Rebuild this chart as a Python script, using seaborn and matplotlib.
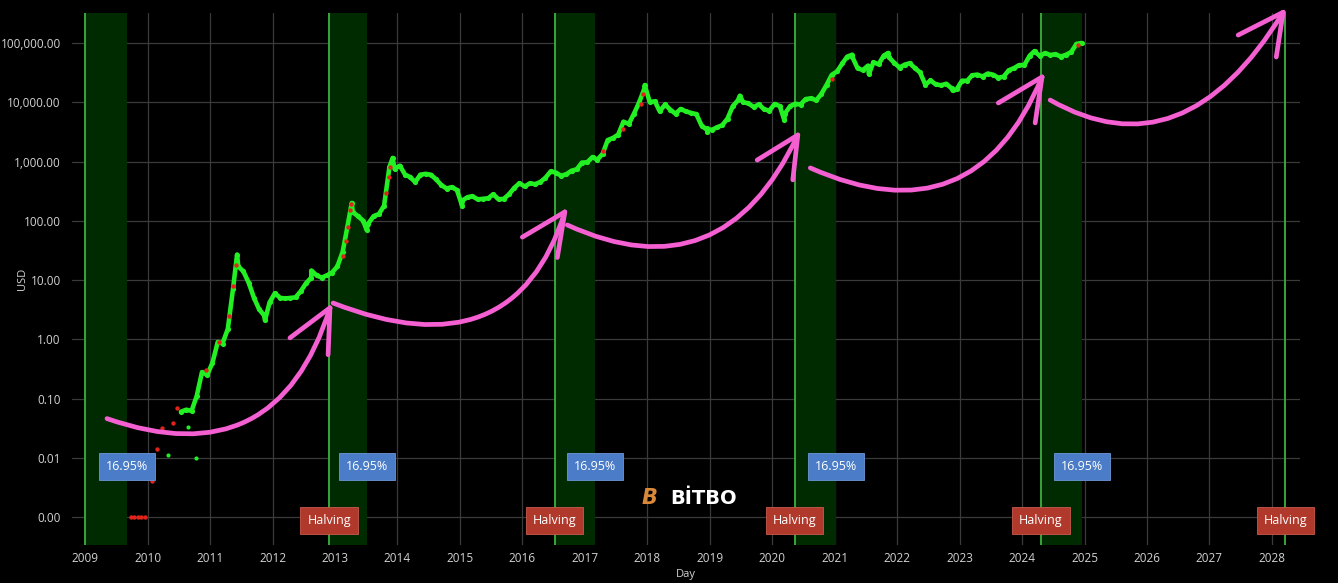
#!/usr/bin/env python3
"""
Bitcoin price (log scale) with halving cycles and the 16.95% post-halving window
"""

import numpy as np
import pandas as pd
import matplotlib
matplotlib.use('Agg')
import matplotlib.pyplot as plt
from matplotlib.path import Path
from matplotlib.patches import PathPatch
import seaborn as sns

# monthly price (USD), Jul 2010 .. Dec 2024
first_month = '2010-07-01'
monthly_usd = [
    0.06, 0.065, 0.062, 0.11, 0.28, 0.25,                                    # 2010 H2
    0.40, 0.90, 0.85, 1.50, 7.0, 17.0, 14.0, 9.0, 5.0, 3.2, 2.5, 4.2,        # 2011
    6.0, 5.0, 4.9, 5.0, 5.1, 6.5, 8.8, 11.0, 12.0, 11.0, 12.0, 13.4,         # 2012
    17, 30, 80, 140, 120, 100, 90, 120, 130, 180, 800, 750,                  # 2013
    850, 600, 550, 450, 600, 620, 600, 500, 400, 350, 370, 330,              # 2014
    220, 250, 260, 230, 235, 240, 280, 230, 235, 280, 360, 430,              # 2015
    380, 430, 415, 450, 530, 680, 650, 575, 610, 700, 740, 960,              # 2016
    970, 1190, 1070, 1350, 2300, 2500, 2850, 4700, 4300, 6400, 10000, 17000, # 2017
    10200, 10300, 7000, 9200, 7500, 6400, 7700, 7000, 6600, 6300, 4000, 3700,  # 2018
    3450, 3800, 4100, 5300, 8500, 10800, 10000, 9600, 8300, 9200, 7600, 7200,  # 2019
    9350, 8600, 6400, 8600, 9450, 9140, 11300, 11650, 10800, 13800, 19700, 29000,   # 2020
    33100, 45200, 58800, 57700, 37300, 35000, 41500, 47100, 43800, 61300, 57000, 46300,  # 2021
    38500, 43200, 45500, 37700, 31800, 19800, 23300, 20000, 19400, 20500, 17200, 16500,  # 2022
    23100, 23100, 28500, 29300, 27200, 30500, 29200, 26000, 27000, 34500, 37700, 42300,  # 2023
    42600, 61200, 71300, 60700, 67500, 62700, 64600, 59000, 63300, 70200, 96400, 100000, # 2024
]

# extra highs / lows between the monthly points
swing_dates = ['2011-06-08', '2011-11-18', '2012-08-16', '2013-04-09', '2013-07-05',
               '2013-12-04', '2015-01-14', '2017-12-17', '2018-12-15', '2019-06-26',
               '2020-03-12', '2021-04-14', '2021-07-20', '2021-11-10', '2022-11-21',
               '2024-03-14']
swing_usd = [27, 2.1, 14.5, 200, 70, 1150, 180, 19500, 3200, 12900,
             5000, 63500, 29800, 68000, 15800, 73000]

# red dots (fast-rising days) and stray early green dots
red_dates = ['2009-09-25', '2009-10-15', '2009-11-05', '2009-11-25', '2009-12-15',
             '2010-01-25', '2010-02-25', '2010-03-25', '2010-05-28', '2010-06-20',
             '2010-12-10', '2011-02-25', '2011-04-20', '2011-05-18', '2011-06-01',
             '2013-02-15', '2013-03-05', '2013-03-20', '2013-04-01', '2013-04-06',
             '2013-10-28', '2013-11-12', '2013-11-18', '2017-04-20', '2017-08-10',
             '2017-11-25', '2017-12-08', '2020-12-15', '2024-11-25']
red_usd = [0.001, 0.001, 0.001, 0.001, 0.001,
           0.004, 0.014, 0.032, 0.039, 0.07,
           0.3, 0.9, 2.5, 8.0, 18.0,
           25, 45, 80, 150, 190,
           300, 550, 800, 1500, 3500,
           9500, 14000, 25000, 92000]
stray_dates = ['2010-04-30', '2010-08-25', '2010-10-12']
stray_usd = [0.011, 0.033, 0.010]

# cycle boundaries: genesis block, then halvings
halving_dates = ['2009-01-03', '2012-11-28', '2016-07-09', '2020-05-11', '2024-04-20', '2028-03-20']
window_share = 0.1695
window_label = '16.95%'

# hand drawn arrows (tail, bend, tip, left barb, lower barb) in (year, USD)
arrows = [
    [(2009.35, 0.046), (2012.07, 0.0046), (2012.92, 3.4), (2012.28, 1.06), (2012.89, 0.55)],
    [(2012.97, 4.1), (2015.87, 0.26), (2016.68, 141), (2016.00, 53), (2016.56, 24)],
    [(2016.72, 85), (2019.20, 5.4), (2020.41, 2800), (2019.76, 1060), (2020.33, 490)],
    [(2020.61, 780), (2023.23, 46), (2024.32, 26700), (2023.62, 9730), (2024.21, 4480)],
    [(2024.45, 10900), (2026.58, 572), (2028.18, 330000), (2027.46, 136000), (2028.07, 58000)],
]

GREEN = '#22f022'
RED = '#e0241b'
PINK = '#f45fd2'
GRID = '#3a3a3a'
TICK = '#d2d2d2'


def to_year(dates):
    d = pd.to_datetime(pd.Index(dates))
    days = np.where(d.is_leap_year, 366, 365)
    return np.asarray(d.year + (d.dayofyear - 1) / days, dtype=float)


def build_prices():
    months = pd.date_range(first_month, periods=len(monthly_usd), freq='MS') + pd.Timedelta(days=14)
    df = pd.DataFrame({'year': to_year(months), 'usd': monthly_usd})
    swings = pd.DataFrame({'year': to_year(swing_dates), 'usd': swing_usd})
    return pd.concat([df, swings]).sort_values('year').reset_index(drop=True)


def draw_arrow(ax, tail, bend, tip, barb1, barb2):
    path = Path([tail, bend, tip], [Path.MOVETO, Path.CURVE3, Path.CURVE3])
    ax.add_patch(PathPatch(path, fill=False, edgecolor=PINK, lw=3.4,
                           capstyle='round', zorder=6, clip_on=False))
    for barb in (barb1, barb2):
        ax.plot([barb[0], tip[0]], [barb[1], tip[1]], color=PINK, lw=3.4,
                solid_capstyle='round', zorder=6, clip_on=False)


def main():
    sns.set_theme(style='dark')
    plt.rcParams['font.family'] = ['Open Sans', 'DejaVu Sans']

    fig = plt.figure(figsize=(13.38, 5.83), dpi=100, facecolor='black')
    ax = fig.add_axes([72 / 1338, 38 / 583, 1228 / 1338, 532 / 583])
    ax.set_facecolor('black')
    ax.set_yscale('log')
    ax.set_xlim(2008.79, 2028.45)
    ax.set_ylim(10 ** -3.47, 10 ** 5.506)

    # grid
    years = np.arange(2009, 2029)
    decades = [0.001, 0.01, 0.1, 1, 10, 100, 1000, 10000, 100000]
    for yr in years:
        ax.axvline(yr, color=GRID, lw=0.9, zorder=0)
    for v in decades:
        ax.axhline(v, color=GRID, lw=0.9, zorder=0)

    # halving cycles and the post-halving window
    h = to_year(halving_dates)
    for i, start in enumerate(h):
        ax.axvline(start, color='#3aa53a', lw=1.4, zorder=2)
        if i + 1 < len(h):
            end = start + window_share * (h[i + 1] - start)
            ax.axvspan(start, end, color='#002a00', lw=0, zorder=1)
            ax.text(end, 0.0071, window_label, ha='center', va='center', fontsize=9,
                    color='white', zorder=7,
                    bbox=dict(boxstyle='square,pad=0.55', fc='#4a7cc8', ec='#6d97d8', lw=0.6))
        if i > 0:
            ax.text(start, 0.00087, 'Halving', ha='center', va='center', fontsize=9,
                    color='white', zorder=7,
                    bbox=dict(boxstyle='square,pad=0.55', fc='#b0392c', ec='#c85a4d', lw=0.6))

    # price
    prices = build_prices()
    sns.lineplot(data=prices, x='year', y='usd', color=GREEN, lw=3.3, ax=ax,
                 sort=False, zorder=4)
    sns.scatterplot(data=prices, x='year', y='usd', color=GREEN, s=14, linewidth=0,
                    ax=ax, zorder=4)
    sns.scatterplot(x=to_year(stray_dates), y=stray_usd, color=GREEN, s=9,
                    linewidth=0, ax=ax, zorder=4)
    sns.scatterplot(x=to_year(red_dates), y=red_usd, color=RED, s=10,
                    linewidth=0, ax=ax, zorder=5)

    for a in arrows:
        draw_arrow(ax, *a)

    # axes styling
    ax.set_xticks(years)
    ax.set_xticklabels([str(y) for y in years])
    ax.set_yticks(decades)
    ax.set_yticklabels([f'{v:,.2f}' for v in decades])
    ax.minorticks_off()
    ax.tick_params(axis='both', length=0, colors=TICK, labelsize=8.5)
    ax.tick_params(axis='y', pad=8)
    ax.tick_params(axis='x', pad=5)
    ax.grid(False)
    for s in ax.spines.values():
        s.set_visible(False)
    ax.set_xlabel('Day', color=TICK, fontsize=8, labelpad=3)
    ax.set_ylabel('USD', color=TICK, fontsize=8)
    ax.yaxis.set_label_coords(-44 / 1228, 0.5)

    # watermark
    ax.text(0.470, 0.088, 'B', transform=ax.transAxes, ha='center', va='center',
            fontsize=15, color='#d9893a', fontweight='bold', fontstyle='italic',
            family='DejaVu Sans', zorder=8)
    ax.text(0.5145, 0.088, 'BİTBO', transform=ax.transAxes, ha='center', va='center',
            fontsize=14, color='white', fontweight='bold', family='DejaVu Sans', zorder=8)

    plt.savefig('out.png', dpi=100, facecolor='black')
    plt.close()


if __name__ == '__main__':
    main()
